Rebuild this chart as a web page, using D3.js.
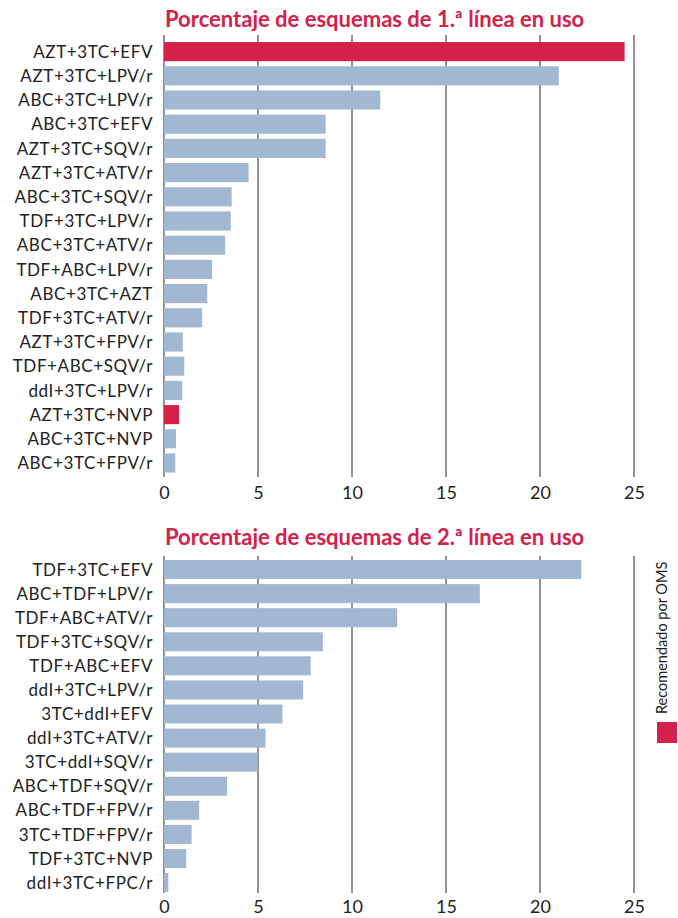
<!DOCTYPE html>
<html>
<head>
<meta charset="utf-8">
<script src="https://cdn.jsdelivr.net/npm/d3@7"></script>
<style>
  body { margin: 0; background: #fff; }
  svg { display: block; font-family: Lato, "Open Sans", sans-serif; }
</style>
</head>
<body>
<svg id="chart" width="678" height="918"></svg>
<script>
// Data
const firstLineCategories = [
    'AZT+3TC+EFV', 'AZT+3TC+LPV/r', 'ABC+3TC+LPV/r', 'ABC+3TC+EFV', 'AZT+3TC+SQV/r',
    'AZT+3TC+ATV/r', 'ABC+3TC+SQV/r', 'TDF+3TC+LPV/r', 'ABC+3TC+ATV/r', 'TDF+ABC+LPV/r',
    'ABC+3TC+AZT', 'TDF+3TC+ATV/r', 'AZT+3TC+FPV/r', 'TDF+ABC+SQV/r', 'ddI+3TC+LPV/r',
    'AZT+3TC+NVP', 'ABC+3TC+NVP', 'ABC+3TC+FPV/r'
];
const firstLineValues = [
    24.5, 21.0, 11.5, 8.6, 8.6,
    4.5, 3.6, 3.55, 3.25, 2.55,
    2.3, 2.03, 1.0, 1.08, 0.97,
    0.8, 0.64, 0.6
];
const firstLineRecommended = ['AZT+3TC+EFV', 'AZT+3TC+NVP'];

const secondLineCategories = [
    'TDF+3TC+EFV', 'ABC+TDF+LPV/r', 'TDF+ABC+ATV/r', 'TDF+3TC+SQV/r', 'TDF+ABC+EFV',
    'ddI+3TC+LPV/r', '3TC+ddI+EFV', 'ddI+3TC+ATV/r', '3TC+ddI+SQV/r', 'ABC+TDF+SQV/r',
    'ABC+TDF+FPV/r', '3TC+TDF+FPV/r', 'TDF+3TC+NVP', 'ddI+3TC+FPC/r'
];
const secondLineValues = [
    22.2, 16.8, 12.4, 8.45, 7.8,
    7.4, 6.3, 5.4, 4.98, 3.35,
    1.87, 1.47, 1.18, 0.23
];
const secondLineRecommended = [];

const xTicks = [0, 5, 10, 15, 20, 25];

const RED = '#d3214b';
const BLUE = '#a1b7d2';
const GRID = '#4a4a4a';

const svg = d3.select('#chart');
const x = d3.scaleLinear().domain([0, 25]).range([164, 634]);

function drawPanel(opts) {
    const g = svg.append('g');
    const n = opts.categories.length;
    const y = d3.scaleBand()
        .domain(opts.categories)
        .range([opts.bandTop, opts.bandTop + n * opts.step])
        .paddingInner(0.21)
        .paddingOuter(0.105);

    // Title
    g.append('text')
        .attr('x', 165)
        .attr('y', opts.titleY)
        .attr('fill', RED)
        .attr('font-size', '22px')
        .attr('font-weight', 'bold')
        .text(opts.title);

    // Vertical grid lines
    g.append('g')
        .selectAll('line')
        .data(xTicks)
        .enter()
        .append('line')
        .attr('x1', d => x(d))
        .attr('x2', d => x(d))
        .attr('y1', opts.gridTop)
        .attr('y2', opts.gridBottom)
        .attr('stroke', GRID)
        .attr('stroke-width', 1.2);

    // Bars
    const data = opts.categories.map((c, i) => ({ name: c, value: opts.values[i] }));
    g.append('g')
        .selectAll('rect')
        .data(data)
        .enter()
        .append('rect')
        .attr('x', x(0))
        .attr('y', d => y(d.name))
        .attr('width', d => x(d.value) - x(0))
        .attr('height', y.bandwidth())
        .attr('fill', d => opts.recommended.includes(d.name) ? RED : BLUE);

    // Category labels
    g.append('g')
        .selectAll('text')
        .data(data)
        .enter()
        .append('text')
        .attr('x', 153)
        .attr('y', d => y(d.name) + y.bandwidth() / 2)
        .attr('dy', '0.36em')
        .attr('text-anchor', 'end')
        .attr('fill', '#222')
        .attr('font-size', '17px')
        .attr('letter-spacing', '0.6px')
        .text(d => d.name);

    // X axis tick labels
    const axis = d3.axisBottom(x).tickValues(xTicks).tickSize(0).tickPadding(0);
    const ax = g.append('g')
        .attr('transform', `translate(0,${opts.axisY})`)
        .call(axis);
    ax.select('.domain').remove();
    ax.selectAll('text')
        .attr('font-family', 'Lato, "Open Sans", sans-serif')
        .attr('font-size', '18px')
        .attr('fill', '#222')
        .attr('dy', 0);
}

drawPanel({
    title: 'Porcentaje de esquemas de 1.ª línea en uso',
    titleY: 27,
    categories: firstLineCategories,
    values: firstLineValues,
    recommended: firstLineRecommended,
    bandTop: 39.5,
    step: 24.2,
    gridTop: 35,
    gridBottom: 477,
    axisY: 499
});

drawPanel({
    title: 'Porcentaje de esquemas de 2.ª línea en uso',
    titleY: 545,
    categories: secondLineCategories,
    values: secondLineValues,
    recommended: secondLineRecommended,
    bandTop: 557.5,
    step: 24.08,
    gridTop: 556,
    gridBottom: 893,
    axisY: 913
});

// Legend
const legend = svg.append('g');
legend.append('text')
    .attr('transform', 'translate(667,714) rotate(-90)')
    .attr('fill', '#222')
    .attr('font-size', '14.5px')
    .text('Recomendado por OMS');
legend.append('rect')
    .attr('x', 657)
    .attr('y', 722)
    .attr('width', 20)
    .attr('height', 21)
    .attr('fill', RED);
</script>
</body>
</html>
